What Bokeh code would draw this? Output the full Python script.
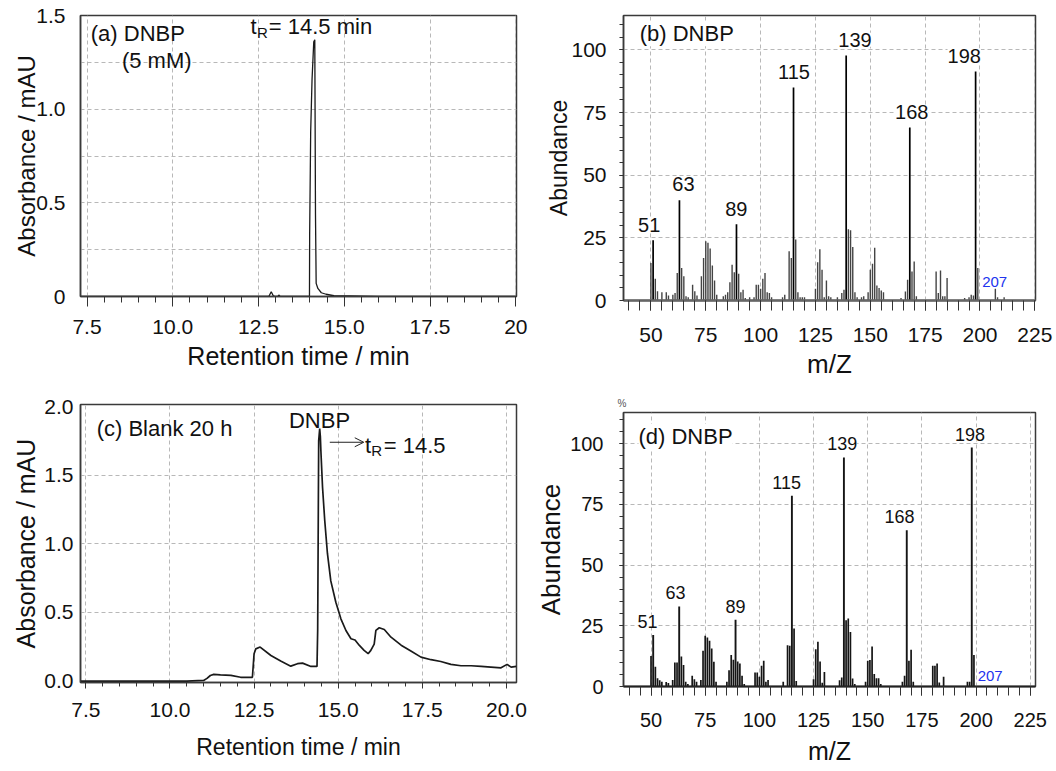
import numpy as np
from bokeh.plotting import figure
from bokeh.models import Range1d, FixedTicker, Label, Arrow, OpenHead, PrintfTickFormatter
from bokeh.layouts import column, row
from bokeh.embed import file_html
from bokeh.resources import INLINE

FONT = "Liberation Sans"
INK = "#111111"
GRID = "#b8b8b8"
FRAME = "#3a3a3a"

# ---------------- data ----------------
# (a) DNBP standard (5 mM) chromatogram
a_time = [7.31, 9.0, 11.0, 12.80, 12.87, 12.93, 13.00, 13.06, 13.09, 13.13, 13.985,
          13.99, 14.02, 14.06, 14.11, 14.14, 14.16, 14.18, 14.23, 14.33, 14.47, 14.70, 16.0, 20.02]
a_abs = [0.0, 0.0, 0.0, 0.0, 0.025, 0.004, 0.0, 0.0, 0.008, 0.0, 0.0,
         0.33, 0.88, 1.16, 1.36, 1.37, 0.44, 0.07, 0.043, 0.02, 0.012, 0.004, 0.0, 0.0]

# (c) Blank 20 h chromatogram
c_time = [7.34, 9.0, 10.5, 11.0, 11.1, 11.2, 11.3, 11.5, 11.81, 12.10, 12.45, 12.50, 12.55,
          12.68, 13.0, 13.29, 13.59, 13.79, 13.94, 14.19, 14.37, 14.39, 14.42, 14.45, 14.47,
          14.485, 14.535, 14.60, 14.68, 14.78, 14.93, 15.08, 15.23, 15.38, 15.50, 15.63, 15.77,
          15.89, 15.97, 16.07, 16.12, 16.22, 16.37, 16.57, 16.87, 17.16, 17.46, 17.76, 18.05,
          18.35, 18.65, 18.95, 19.25, 19.54, 19.84, 20.02, 20.14, 20.30]
c_abs = [0.0, 0.0, 0.0, 0.005, 0.02, 0.041, 0.049, 0.046, 0.042, 0.028, 0.028, 0.20, 0.235,
         0.248, 0.187, 0.146, 0.109, 0.127, 0.131, 0.107, 0.107, 0.37, 1.75, 1.84, 1.78,
         1.68, 1.41, 1.17, 0.93, 0.73, 0.575, 0.454, 0.369, 0.309, 0.30, 0.26, 0.224,
         0.20, 0.224, 0.27, 0.37, 0.389, 0.376, 0.32, 0.262, 0.22, 0.175, 0.156, 0.143,
         0.122, 0.112, 0.112, 0.107, 0.102, 0.097, 0.122, 0.102, 0.107]

# (b) DNBP mass spectrum
b_mz = [50, 51, 52, 53, 55, 57, 58, 60, 61, 62, 63, 64, 65, 66, 67, 69, 70, 71, 73, 74, 75,
        76, 77, 78, 79, 80, 83, 84, 85, 86, 87, 88, 89, 90, 91, 92, 93, 95, 97, 98, 99, 100,
        101, 102, 103, 104, 105, 110, 111, 113, 114, 115, 116, 117, 118, 119, 120, 125, 126,
        127, 128, 129, 130, 131, 132, 135, 137, 138, 139, 140, 141, 142, 143, 144, 146, 147,
        149, 150, 151, 152, 153, 154, 155, 156, 164, 166, 167, 168, 169, 170, 171, 180, 181,
        182, 183, 184, 185, 193, 195, 196, 197, 198, 199, 207, 208, 211]
b_abund = [15, 24, 8.7, 3.7, 3.3, 3.3, 2, 2.3, 3, 11, 40, 13, 9.7, 1.7, 1.3, 6.3, 3.7, 2, 9.7,
           17, 23.6, 23, 20.7, 14, 8, 2.3, 1.7, 2.3, 3.3, 7.3, 14.3, 11.3, 30.4, 10.7, 3.3, 4.3,
           1, 1.3, 1.3, 6.3, 6.3, 4.7, 8.7, 11, 3.3, 3, 1.3, 1.3, 2.3, 19.6, 17, 85, 24.3, 3.3,
           1.3, 1.3, 1.3, 4.7, 15.3, 20.4, 12.3, 1.3, 8, 1.7, 1.3, 1.3, 3, 4.3, 97.7, 28.4, 28,
           21.3, 3.3, 1.3, 1.3, 1.7, 3.3, 12.3, 14.7, 21, 6, 5, 4, 3.3, 1, 3.6, 8.3, 69, 11.6,
           15.6, 1.7, 11.6, 3, 12, 1.7, 1.7, 9, 1, 1.3, 2.3, 2, 91.4, 13, 4.7, 1.3, 1.3]

# (d) DNBP mass spectrum
d_mz = [50, 51, 52, 53, 54, 55, 57, 58, 60, 61, 62, 63, 64, 65, 66, 67, 69, 70, 71, 73, 74,
        75, 76, 77, 78, 79, 80, 85, 86, 87, 88, 89, 90, 91, 92, 93, 98, 99, 100, 101, 102,
        103, 104, 111, 113, 114, 115, 116, 117, 125, 126, 127, 128, 129, 130, 137, 138, 139,
        140, 141, 142, 143, 144, 149, 150, 151, 152, 153, 154, 155, 156, 166, 167, 168, 169,
        170, 171, 180, 181, 182, 183, 185, 196, 197, 198, 199]
d_abund = [12.6, 21.2, 8.1, 3.4, 2.6, 2, 1.9, 1.4, 2.7, 9.9, 9.9, 33, 12.4, 8.9, 2, 1, 4.4,
           3, 2, 2.7, 14.7, 20.9, 20.2, 18.8, 15.7, 10.2, 2, 2, 6.7, 13, 11, 27.5, 10.3, 9.5,
           4.4, 1, 5.8, 5.8, 4, 8.5, 10.6, 2, 2.7, 2, 17, 16.8, 78.6, 23.9, 2.3, 3, 15.4, 18.4,
           10.3, 1.5, 6, 2.6, 3.7, 94.4, 27.3, 28, 22.5, 3.3, 1, 2, 10.6, 10.9, 16.5, 5.1,
           3.4, 3.4, 1, 2, 4.4, 64.4, 10.6, 15.1, 2, 8.5, 8.5, 9.5, 1.6, 4, 2, 2, 98.5, 13]

peak_labels = ["51", "63", "89", "115", "139", "168", "198"]
peak_mz = [51, 63, 89, 115, 139, 168, 198]

chrom_xticks = [7.5, 10.0, 12.5, 15.0, 17.5, 20.0]
a_yticks = [0.0, 0.5, 1.0, 1.5]
c_yticks = [0.0, 0.5, 1.0, 1.5, 2.0]
ms_xticks = [50, 75, 100, 125, 150, 175, 200, 225]
ms_yticks = [0, 25, 50, 75, 100]


# ---------------- helpers ----------------
def make_fig(w, h, left, right, top, bottom, xr, yr):
    p = figure(width=w, height=h, x_range=Range1d(*xr), y_range=Range1d(*yr),
               output_backend="svg", toolbar_location=None,
               min_border_left=left, min_border_right=right,
               min_border_top=top, min_border_bottom=bottom)
    p.outline_line_color = FRAME
    p.outline_line_width = 1.5
    p.outline_line_alpha = 1.0
    p.background_fill_color = "white"
    p.border_fill_color = "white"
    p.xgrid.grid_line_color = GRID
    p.ygrid.grid_line_color = GRID
    p.xgrid.grid_line_dash = "4 3"
    p.ygrid.grid_line_dash = "4 3"
    return p


def style_axis(ax, ticks, minor, size, standoff, tick_out, minor_out, title, title_size,
               title_standoff, line_color=FRAME, line_width=1.5):
    ax.ticker = FixedTicker(ticks=ticks, minor_ticks=minor)
    ax.major_label_text_font = FONT
    ax.major_label_text_font_size = f"{size}px"
    ax.major_label_text_color = INK
    ax.major_label_standoff = standoff
    ax.major_tick_out = tick_out
    ax.major_tick_in = 0
    ax.minor_tick_out = minor_out
    ax.minor_tick_in = 0
    ax.major_tick_line_color = "#333333" if tick_out else None
    ax.minor_tick_line_color = "#333333" if minor_out else None
    ax.axis_line_color = line_color
    ax.axis_line_width = line_width
    ax.axis_label = title
    ax.axis_label_text_font = FONT
    ax.axis_label_text_font_size = f"{title_size}px"
    ax.axis_label_text_font_style = "normal"
    ax.axis_label_text_color = INK
    ax.axis_label_standoff = title_standoff


def add_text(p, x, y, text, size, align="left", color=INK, bg=None):
    lab = Label(x=x, y=y, text=text, text_font=FONT, text_font_size=f"{size}px",
                text_color=color, text_align=align, text_baseline="middle")
    if bg:
        lab.background_fill_color = bg
    p.add_layout(lab)


# ---------------- (a) ----------------
pa = make_fig(530, 380, 78, 11, 15, 84, (7.31, 20.02), (0.0, 1.5))
pa.line(a_time, a_abs, line_color="#1a1a1a", line_width=1.3)
style_axis(pa.xaxis[0], chrom_xticks, list(np.arange(7.5, 20.01, 0.5)), 21, 13, 10, 6,
           "Retention time / min", 25, 5)
pa.xaxis.formatter = PrintfTickFormatter(format="%.1f")
pa.xaxis.major_label_overrides = {20.0: "20"}
style_axis(pa.yaxis[0], a_yticks, [], 21, 15, 0, 0, "Absorbance / mAU", 24, -7)
pa.yaxis.formatter = PrintfTickFormatter(format="%.1f")
pa.yaxis.major_label_overrides = {0.0: "0"}
pa.xgrid.ticker = FixedTicker(ticks=chrom_xticks)
pa.ygrid.ticker = FixedTicker(ticks=[0.25, 0.5, 0.75, 1.0, 1.25])
add_text(pa, 7.61, 1.404, "(a)  DNBP", 22)
add_text(pa, 8.518, 1.26, "(5 mM)", 22)
add_text(pa, 12.264, 1.4415, "t", 22)
add_text(pa, 12.454, 1.4095, "R", 15)
add_text(pa, 12.80, 1.4415, "= 14.5 min", 22)

# ---------------- (b) ----------------
pb = make_fig(526, 386, 90, 21, 15, 86, (37.5, 225.3), (0.0, 113.7))
b_major = [m in peak_mz for m in b_mz]
b_col = ["#000000" if m else "#444444" for m in b_major]
b_w = [1.7 if m else 1.4 for m in b_major]
pb.segment(x0=b_mz, y0=[0] * len(b_mz), x1=b_mz, y1=b_abund, line_color=b_col, line_width=b_w)
style_axis(pb.xaxis[0], ms_xticks, list(range(40, 226, 5)), 21, 17, 10, 10, "m/Z", 26, 4,
           line_color="#666666", line_width=2.5)
style_axis(pb.yaxis[0], ms_yticks, list(range(5, 111, 5)), 21, 13, 4, 4, "Abundance", 23, -4)
pb.xgrid.ticker = FixedTicker(ticks=ms_xticks)
pb.ygrid.ticker = FixedTicker(ticks=[25, 50, 75, 100])
b_lab_pos = [(49.2, 30.3), (64.8, 46.6), (88.9, 36.7), (115.2, 91.1),
             (143.0, 104.0), (168.9, 75.1), (192.8, 97.7)]
for t, (x, y) in zip(peak_labels, b_lab_pos):
    add_text(pb, x, y, t, 20, align="center", bg="white")
add_text(pb, 206.7, 7.3, "207", 15, align="center", color="#2233ee")
add_text(pb, 44.9, 106.4, "(b) DNBP", 22, bg="white")

# ---------------- (c) ----------------
pc = make_fig(530, 390, 80, 14, 24, 88, (7.34, 20.30), (-0.01, 2.015))
pc.line(c_time, c_abs, line_color="#1a1a1a", line_width=1.7)
style_axis(pc.xaxis[0], chrom_xticks, list(np.arange(7.5, 20.31, 0.5)), 21, 14, 6, 4,
           "Retention time / min", 23, 14)
pc.xaxis.formatter = PrintfTickFormatter(format="%.1f")
style_axis(pc.yaxis[0], c_yticks, [], 21, 7, 0, 0, "Absorbance / mAU", 25, 1)
pc.yaxis.formatter = PrintfTickFormatter(format="%.1f")
pc.xgrid.ticker = FixedTicker(ticks=chrom_xticks)
pc.ygrid.ticker = FixedTicker(ticks=[0.5, 1.0, 1.5])
add_text(pc, 7.82, 1.838, "(c) Blank 20 h", 22)
add_text(pc, 14.445, 1.898, "DNBP", 22, align="center")
pc.add_layout(Arrow(end=OpenHead(size=9, line_width=1, line_color="#222222"),
                    x_start=14.75, y_start=1.74, x_end=15.76, y_end=1.74,
                    line_width=1, line_color="#222222"))
add_text(pc, 15.80, 1.716, "t", 22)
add_text(pc, 15.98, 1.68, "R", 15)
add_text(pc, 16.356, 1.716, "= 14.5", 22)

# ---------------- (d) ----------------
pd_ = make_fig(526, 384, 93, 20, 26, 84, (37.3, 227.4), (0.0, 112.9))
d_major = [m in peak_mz for m in d_mz]
d_w = [1.9 if m else 1.7 for m in d_major]
pd_.segment(x0=d_mz, y0=[0] * len(d_mz), x1=d_mz, y1=d_abund, line_color="#151515", line_width=d_w)
style_axis(pd_.xaxis[0], ms_xticks, list(range(40, 226, 5)), 20, 17, 9, 9, "m/Z", 25, 7,
           line_color="#222222", line_width=2)
style_axis(pd_.yaxis[0], ms_yticks, list(range(5, 111, 5)), 20, 16, 4, 4, "Abundance", 26, 1)
pd_.xgrid.ticker = FixedTicker(ticks=ms_xticks)
pd_.ygrid.ticker = FixedTicker(ticks=[25, 50, 75, 100])
d_lab_pos = [(48.4, 26.9), (61.3, 38.6), (89.0, 33.0), (112.6, 84.2),
             (138.2, 100.0), (164.6, 70.0), (197.2, 104.0)]
for t, (x, y) in zip(peak_labels, d_lab_pos):
    add_text(pd_, x, y, t, 18, align="center", bg="white")
add_text(pd_, 206.5, 4.5, "207", 15, align="center", color="#2233ee")
add_text(pd_, 44.2, 103.0, "(d) DNBP", 22, bg="white")
pd_.title.text = "%"
pd_.title.align = "left"
pd_.title.offset = -6
pd_.title.standoff = 8
pd_.title.text_font = FONT
pd_.title.text_font_size = "10px"
pd_.title.text_font_style = "normal"
pd_.title.text_color = "#555555"

layout = row(column(pa, pc), column(pb, pd_))
open("out.html", "w").write(file_html(layout, INLINE))
